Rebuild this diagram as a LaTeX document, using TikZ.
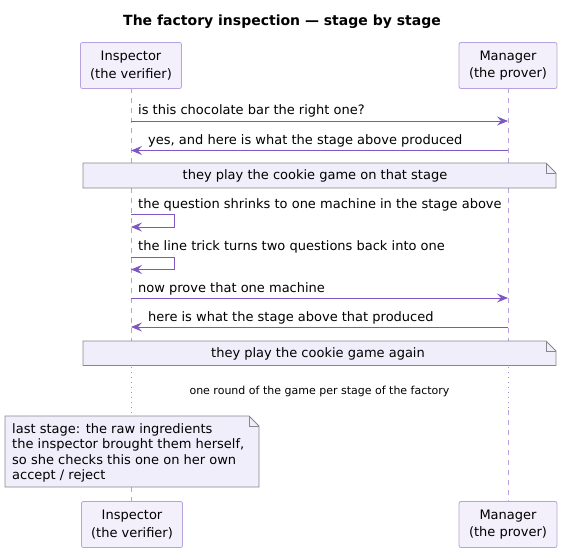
\documentclass[tikz,border=0pt]{standalone}
\usepackage{fontspec}
\setmainfont{DejaVu Sans}
\usetikzlibrary{arrows.meta}
\definecolor{pfill}{HTML}{F3F0FC}
\definecolor{pline}{HTML}{B5A2DE}
\definecolor{arr}{HTML}{7E57C2}
\definecolor{nfill}{HTML}{F1EEFB}
\definecolor{nline}{HTML}{888888}
\tikzset{
  part/.style={draw=pline, fill=pfill, rounded corners=2pt, minimum width=101pt, minimum height=46pt, inner sep=0pt, align=center, font=\fontsize{13}{17.5}\selectfont, line width=0.8pt},
  life/.style={draw=pline, dash pattern=on 5pt off 5pt, line width=0.8pt},
  lifedot/.style={draw=arr!70, dash pattern=on 1pt off 4pt, line width=0.8pt},
  msg/.style={draw=arr, line width=0.9pt, -{Stealth[length=11pt,width=9pt,inset=4pt]}},
  lbl/.style={font=\fontsize{13}{15}\selectfont, inner sep=0pt},
  notebox/.style={draw=nline, fill=nfill, line width=0.8pt},
}
\begin{document}
\begin{tikzpicture}[x=1pt,y=-1pt]
\useasboundingbox (0,0) rectangle (562,552);
% title
\node[font=\fontsize{14}{16}\selectfont\bfseries] (title) at (282,22) {The factory inspection — stage by stage};
% lifelines
\coordinate (iA) at (131,88); \coordinate (iB) at (131,367); \coordinate (iC) at (131,416);
\coordinate (iD) at (131,487); \coordinate (iE) at (131,502);
\coordinate (mA) at (508,88); \coordinate (mB) at (508,367); \coordinate (mC) at (508,410);
\coordinate (mE) at (508,502);
\draw[life] (iA) -- (iB);
\draw[lifedot] (iB) -- (iC);
\draw[life] (iD) -- (iE);
\draw[life] (mA) -- (mB);
\draw[lifedot] (mB) -- (mC);
\draw[life] (mC) -- (mE);
% participants
\node[part] (insT) at (131,65.5) {Inspector\\(the verifier)};
\node[part, minimum width=98pt] (manT) at (508,65.5) {Manager\\(the prover)};
\node[part] (insB) at (132,524.5) {Inspector\\(the verifier)};
\node[part, minimum width=98pt] (manB) at (508,524.5) {Manager\\(the prover)};
% message 1
\coordinate (i1) at (131,121); \coordinate (m1) at (508,121);
\draw[msg] (i1) -- (m1);
\node[lbl, anchor=west] (t1) at (138,111) {is this chocolate bar the right one?};
% message 2
\coordinate (i2) at (131,150.5); \coordinate (m2) at (508,150.5);
\draw[msg] (m2) -- (i2);
\node[lbl, anchor=west] (t2) at (148,140.5) {yes, and here is what the stage above produced};
% note 1
\draw[notebox] (83,163) -- (546,163) -- (556,173) -- (556,188) -- (83,188) -- cycle;
\draw[nline, line width=0.8pt] (546,163) -- (546,173) -- (556,173);
\node[lbl] (n1) at (315,175.5) {they play the cookie game on that stage};
% self 1
\coordinate (s1a) at (131,214); \coordinate (s1b) at (131,227);
\draw[msg] (s1a) -- (174,214) -- (174,227) -- (s1b);
\node[lbl, anchor=west] (t3) at (138,204.5) {the question shrinks to one machine in the stage above};
% self 2
\coordinate (s2a) at (131,257); \coordinate (s2b) at (131,269.5);
\draw[msg] (s2a) -- (174,257) -- (174,269.5) -- (s2b);
\node[lbl, anchor=west] (t4) at (138,246.5) {the line trick turns two questions back into one};
% message 5
\coordinate (i5) at (131,298); \coordinate (m5) at (508,298);
\draw[msg] (i5) -- (m5);
\node[lbl, anchor=west] (t5) at (138,289) {now prove that one machine};
% message 6
\coordinate (i6) at (131,327); \coordinate (m6) at (508,327);
\draw[msg] (m6) -- (i6);
\node[lbl, anchor=west] (t6) at (148,318) {here is what the stage above that produced};
% note 2
\draw[notebox] (83,341) -- (546,341) -- (556,351) -- (556,365.5) -- (83,365.5) -- cycle;
\draw[nline, line width=0.8pt] (546,341) -- (546,351) -- (556,351);
\node[lbl] (n2) at (318,353.5) {they play the cookie game again};
% delay
\node[font=\fontsize{11}{13}\selectfont, inner sep=0pt] (delay) at (319.5,391) {one round of the game per stage of the factory};
% note 3
\draw[notebox] (5,416) -- (249,416) -- (259,426) -- (259,487) -- (5,487) -- cycle;
\draw[nline, line width=0.8pt] (249,416) -- (249,426) -- (259,426);
\node[lbl, anchor=north west, align=left, font=\fontsize{13}{15.5}\selectfont] (n3) at (12,423) {last stage: the raw ingredients\\the inspector brought them herself,\\so she checks this one on her own\\accept / reject};
\end{tikzpicture}
\end{document}
